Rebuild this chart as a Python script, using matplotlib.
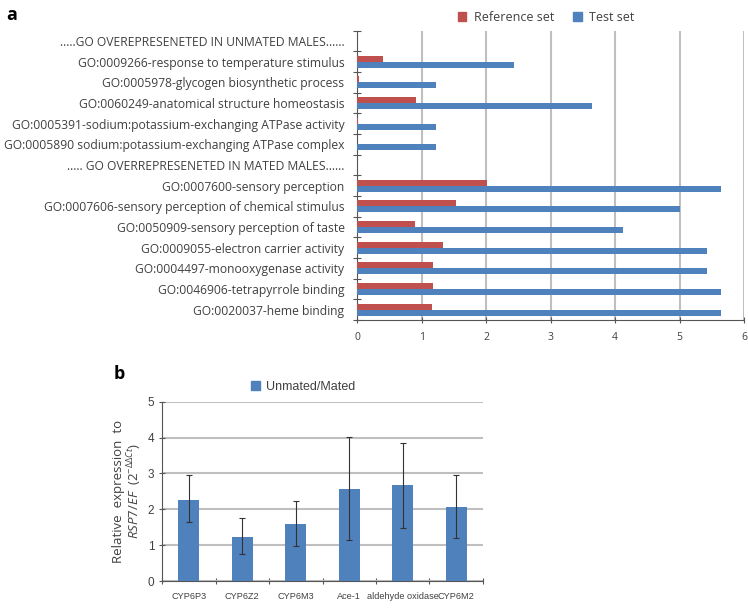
import matplotlib.pyplot as plt
import numpy as np
from matplotlib.patches import Patch

# panel a: GO term enrichment
go_terms = [
    '.....GO OVEREPRESENETED IN UNMATED MALES......',
    'GO:0009266-response to temperature stimulus',
    'GO:0005978-glycogen biosynthetic process',
    'GO:0060249-anatomical structure homeostasis',
    'GO:0005391-sodium:potassium-exchanging ATPase activity',
    'GO:0005890 sodium:potassium-exchanging ATPase complex',
    '..... GO OVERREPRESENETED IN MATED MALES......',
    'GO:0007600-sensory perception',
    'GO:0007606-sensory perception of chemical stimulus',
    'GO:0050909-sensory perception of taste',
    'GO:0009055-electron carrier activity',
    'GO:0004497-monooxygenase activity',
    'GO:0046906-tetrapyrrole binding',
    'GO:0020037-heme binding',
]
reference_set = [0, 0.40, 0.03, 0.91, 0.015, 0, 0, 2.02, 1.54, 0.90, 1.33, 1.18, 1.18, 1.16]
test_set = [0, 2.43, 1.22, 3.65, 1.22, 1.22, 0, 5.65, 5.0, 4.13, 5.43, 5.43, 5.65, 5.65]

# panel b: qPCR
genes = ['CYP6P3', 'CYP6Z2', 'CYP6M3', 'Ace-1', 'aldehyde oxidase', 'CYP6M2']
ratio = [2.27, 1.22, 1.58, 2.57, 2.67, 2.05]
err_low = [1.65, 0.75, 0.98, 1.13, 1.49, 1.20]
err_high = [2.95, 1.77, 2.22, 4.02, 3.85, 2.95]

red = '#C0504D'
blue = '#4F81BD'
grid_col = '#BFBFBF'
txt = '#404040'

plt.rcParams['font.family'] = ['Open Sans', 'DejaVu Sans']
plt.rcParams['mathtext.fontset'] = 'custom'
plt.rcParams['mathtext.rm'] = 'Open Sans'
plt.rcParams['mathtext.it'] = 'Open Sans:italic'

# narrower font for panel b (original is a condensed Excel font)
narrow = 'Liberation Sans'

fig = plt.figure(figsize=(7.48, 6.08), dpi=100)

# ---- panel a ----
ax1 = fig.add_axes([0.4773, 0.4737, 0.5174, 0.4758])
y = np.arange(len(go_terms))
h = 0.29
ax1.barh(y - h / 2, reference_set, height=h, color=red, zorder=3)
ax1.barh(y + h / 2, test_set, height=h, color=blue, zorder=3)
ax1.set_ylim(len(go_terms) - 0.5, -0.5)
ax1.set_xlim(0, 6)
ax1.set_xticks(range(7))
ax1.set_xticklabels([str(i) for i in range(7)], fontsize=7.5, color=txt)
ax1.set_yticks(np.arange(len(go_terms) + 1) - 0.5)
ax1.set_yticklabels([])
ax1.set_yticks(y, minor=True)
ax1.set_yticklabels(go_terms, minor=True, fontsize=8.7, color=txt)
ax1.tick_params(axis='y', which='minor', length=0, pad=9)
ax1.tick_params(axis='y', which='major', length=6, direction='inout', color='#555555')
ax1.tick_params(axis='x', length=4, direction='inout', color='#555555', pad=7)
ax1.grid(axis='x', color=grid_col, linewidth=1.5, zorder=0)
for s in ['top', 'right']:
    ax1.spines[s].set_visible(False)
ax1.spines['left'].set_color('#555555')
ax1.spines['bottom'].set_color('#555555')

fig.legend(handles=[Patch(color=red, label='Reference set'), Patch(color=blue, label='Test set')],
           loc='center', bbox_to_anchor=(0.73, 0.972), ncol=2, frameon=False,
           fontsize=9, handlelength=0.7, handleheight=0.7, columnspacing=1.5, handletextpad=0.6,
           labelcolor=txt)

# ---- panel b ----
ax2 = fig.add_axes([0.2166, 0.0444, 0.4291, 0.2949])
x = np.arange(len(genes))
yerr = [np.array(ratio) - np.array(err_low), np.array(err_high) - np.array(ratio)]
ax2.bar(x, ratio, width=0.4, color=blue, zorder=3)
ax2.errorbar(x, ratio, yerr=yerr, fmt='none', ecolor='#333333', elinewidth=0.8,
             capsize=2.5, capthick=0.8, zorder=4)
ax2.set_xlim(-0.5, len(genes) - 0.5)
ax2.set_ylim(0, 5)
ax2.set_yticks(range(6))
ax2.set_yticklabels([str(i) for i in range(6)], family=narrow, fontsize=8.5, color=txt)
ax2.tick_params(axis='y', length=4, direction='inout', color='#555555')
ax2.set_xticks(np.arange(len(genes) + 1) - 0.5)
ax2.set_xticklabels([])
ax2.set_xticks(x, minor=True)
ax2.set_xticklabels(genes, minor=True, family=narrow, fontsize=6.6, color=txt)
ax2.tick_params(axis='x', which='minor', length=0, pad=8)
ax2.tick_params(axis='x', which='major', length=5, direction='inout', color='#555555')
ax2.grid(axis='y', color=grid_col, linewidth=1.5, zorder=0)
for s in ['top', 'right']:
    ax2.spines[s].set_visible(False)
ax2.spines['left'].set_color('#555555')
ax2.spines['bottom'].set_color('#555555')
ax2.set_ylabel('Relative  expression  to\n$RSP7/EF$  (2$^{-\\Delta\\Delta Ct}$)',
               fontsize=9.5, color=txt, labelpad=3, linespacing=1.0)

fig.legend(handles=[Patch(color=blue, label='Unmated/Mated')],
           loc='center', bbox_to_anchor=(0.405, 0.3635), frameon=False,
           handlelength=0.7, handleheight=0.7, handletextpad=0.5,
           labelcolor=txt, prop={'family': narrow, 'size': 9})

fig.text(0.008, 0.975, 'a', fontsize=13, fontweight='bold', va='center')
fig.text(0.152, 0.385, 'b', fontsize=13, fontweight='bold', va='center')

fig.savefig('out.png', dpi=100)
